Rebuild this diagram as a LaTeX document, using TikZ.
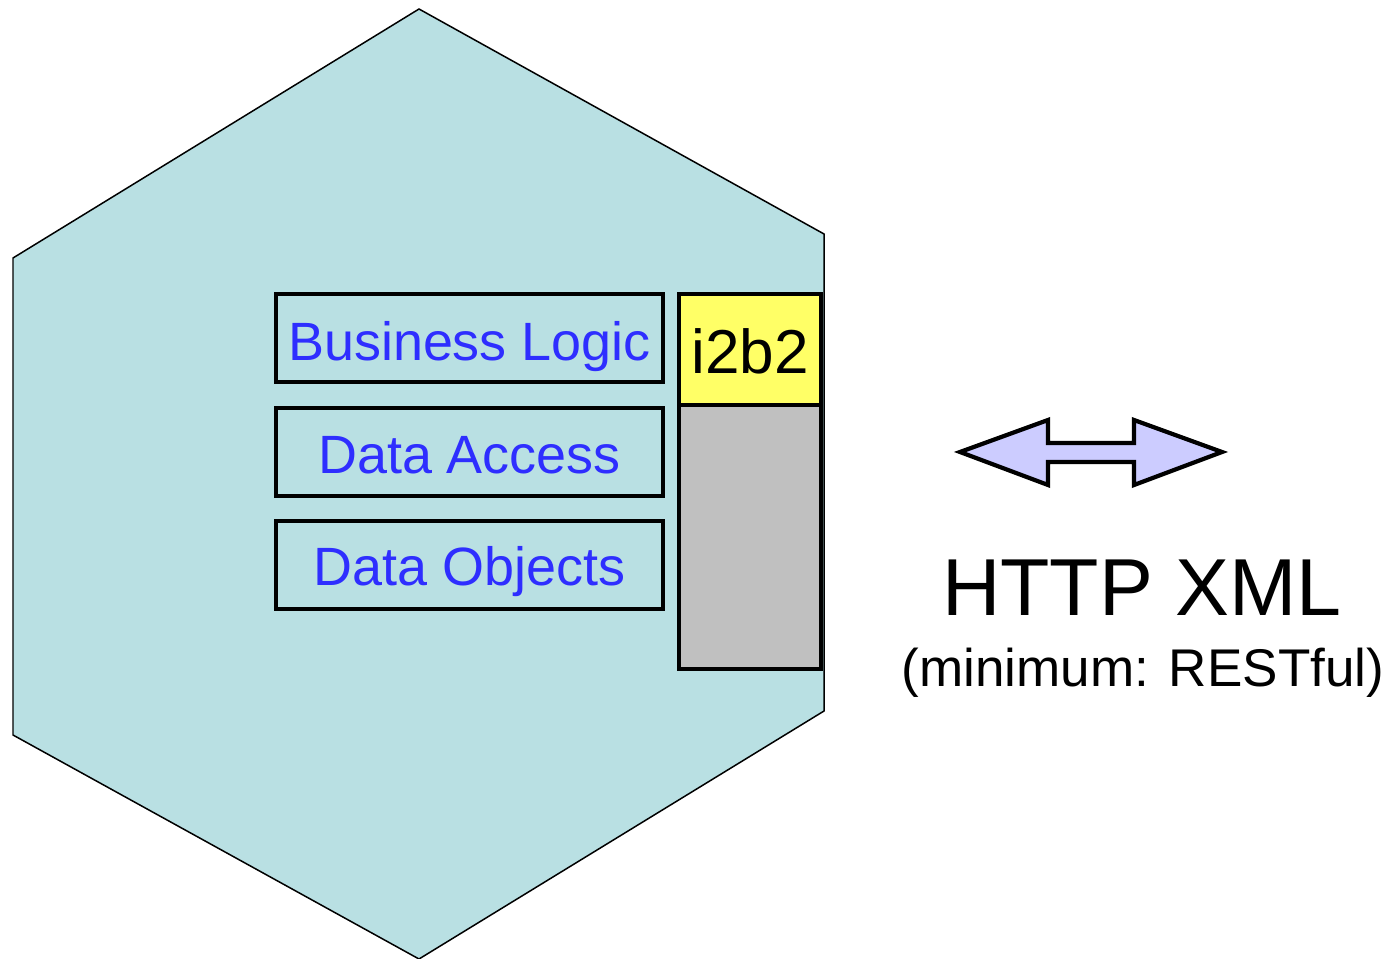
\documentclass[tikz,border=0pt]{standalone}
\usepackage{fontspec}
\setmainfont{Liberation Sans}
\definecolor{hexfill}{HTML}{B9E0E3}
\definecolor{layerblue}{HTML}{2E2EFF}
\definecolor{i2byellow}{HTML}{FFFF66}
\definecolor{cellgray}{HTML}{C0C0C0}
\definecolor{arrowfill}{HTML}{CCCCFF}
\tikzset{
	layerbox/.style={draw=black, line width=2.6pt},
	layertext/.style={text=layerblue, anchor=base, inner sep=0pt, font=\fontsize{30.7}{36}\selectfont},
}
\begin{document}
\begin{tikzpicture}[x=0.02cm, y=-0.02cm]
	\useasboundingbox (0,0) rectangle (1395,959);
	\pgfmathsetmacro{\xL}{276};
	\pgfmathsetmacro{\xR}{663};
	\pgfmathsetmacro{\xMid}{469.5};
%
	% cell
	\draw[fill=hexfill, line width=0.85pt] (419,9) -- (824,234) -- (824,711) -- (419,959) -- (13,735) -- (13,258) -- cycle;
%
	\begin{scope}
		\draw[layerbox] (\xL,294) rectangle (\xR,382);
		\node[layertext] (logic) at (\xMid,360) {Business Logic};
		\draw[layerbox] (\xL,408) rectangle (\xR,496);
		\node[layertext] (access) at (\xMid,473) {Data Access};
		\draw[layerbox] (\xL,521) rectangle (\xR,609);
		\node[layertext] (objects) at (\xMid,585) {Data Objects};
	\end{scope}
%
	\begin{scope}
		\draw[layerbox, fill=cellgray] (679,405) rectangle (821,669);
		\draw[layerbox, fill=i2byellow] (679,294) rectangle (821,405);
		\node[anchor=base, inner sep=0pt, font=\fontsize{35.3}{40}\selectfont] (i2b2) at (750,373) {i2b2};
	\end{scope}
%
	% exchange arrow
	\draw[fill=arrowfill, line width=2.4pt, line join=miter] (960,452) -- (1048,420) -- (1048,443) -- (1134,443) -- (1134,420) -- (1222,452) -- (1134,485) -- (1134,462) -- (1048,462) -- (1048,485) -- cycle;
	\node[anchor=base, inner sep=0pt, font=\fontsize{46}{52}\selectfont] (http) at (1142,615) {HTTP XML};
	\node[anchor=base, inner sep=0pt, font=\fontsize{30.2}{36}\selectfont] (rest) at (1143,686) {(minimum: RESTful)};
\end{tikzpicture}
\end{document}
